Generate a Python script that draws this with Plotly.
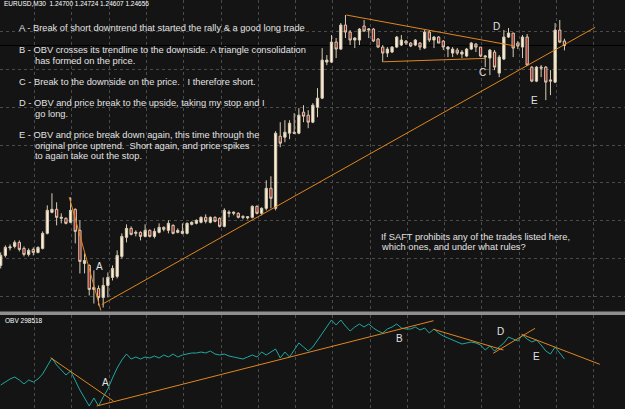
import plotly.graph_objects as go

W, H = 625, 409

# ---------------- data (EURUSD, M30) ----------------
bar = list(range(122))

open_ = [1.2246,1.2256,1.22635,1.2265,1.2269,1.2263,1.2257,1.2262,1.2259,1.2263,
         1.2278,1.2299,1.2302,1.2293,1.2293,1.2289,1.2302,1.2281,1.2248,1.2246,
         1.2222,1.2223,1.2214,1.2226,1.2234,1.2235,1.2255,1.2274,1.2283,1.2278,
         1.2279,1.2275,1.2281,1.2275,1.2279,1.2284,1.2281,1.2286,1.2279,1.2278,
         1.2278,1.2287,1.2288,1.2289,1.2294,1.2289,1.2294,1.2293,1.2285,1.2298,
         1.2298,1.2298,1.2295,1.22935,1.2294,1.2305,1.2298,1.2303,1.2323,1.2303,
         1.2375,1.2374,1.2378,1.2379,1.2378,1.2399,1.2396,1.2389,1.2404,1.2413,
         1.2449,1.2449,1.2469,1.2462,1.2486,1.2479,1.2471,1.2471,1.2485,1.2481,
         1.2482,1.2472,1.2464,1.2458,1.2459,1.2464,1.2466,1.2470,1.2468,1.2466,
         1.2468,1.2463,1.2479,1.2471,1.2474,1.2470,1.2462,1.2458,1.2461,1.2457,
         1.2455,1.2462,1.2467,1.2464,1.2454,1.2453,1.2459,1.2438,1.2452,1.2474,
         1.2478,1.2468,1.2464,1.2474,1.2444,1.2430,1.2444,1.2444,1.2430,1.2429,
         1.2481,1.24700]

high = [1.2259,1.2266,1.2267,1.2271,1.2271,1.2265,1.2263,1.2264,1.2265,1.2280,
        1.2306,1.2318,1.2309,1.2298,1.2294,1.2314,1.2303,1.2291,1.2258,1.2247,
        1.2241,1.2226,1.2234,1.2239,1.2246,1.2261,1.2278,1.2287,1.2285,1.2281,
        1.2280,1.2287,1.2282,1.2283,1.2288,1.2285,1.2291,1.2287,1.2283,1.2288,
        1.2289,1.2290,1.2292,1.2295,1.2297,1.2295,1.2295,1.2294,1.2303,1.2301,
        1.2300,1.2299,1.2296,1.2295,1.2306,1.2306,1.2304,1.2331,1.2335,1.2380,
        1.2389,1.2391,1.2391,1.2398,1.2403,1.2406,1.2401,1.2408,1.2423,1.2463,
        1.2456,1.2476,1.2473,1.2488,1.2496,1.2481,1.2474,1.2483,1.2491,1.2483,
        1.2483,1.2473,1.2466,1.2464,1.2465,1.2475,1.2476,1.2471,1.2469,1.2472,
        1.2469,1.2481,1.2481,1.2475,1.2475,1.2471,1.2465,1.2464,1.2463,1.2461,
        1.2463,1.2469,1.2468,1.2464,1.2456,1.2462,1.2461,1.2456,1.2481,1.2483,
        1.2478,1.2470,1.2476,1.2477,1.2445,1.2445,1.2446,1.2445,1.2441,1.2488,
        1.2491,1.24724]

low = [1.2243,1.2254,1.2261,1.2263,1.2260,1.2255,1.2255,1.2256,1.2258,1.2262,
       1.2277,1.2298,1.2286,1.2288,1.2287,1.2288,1.2268,1.2238,1.2238,1.2216,
       1.2208,1.2206,1.2204,1.2214,1.2231,1.2233,1.2253,1.2269,1.2276,1.2275,
       1.2271,1.2274,1.2274,1.2273,1.2278,1.2280,1.2278,1.2277,1.2278,1.2277,
       1.2277,1.2286,1.2287,1.2288,1.2288,1.2288,1.2289,1.2284,1.2284,1.2294,
       1.2296,1.2293,1.2292,1.2292,1.2293,1.2297,1.2296,1.2301,1.2303,1.2301,
       1.2364,1.2369,1.2372,1.2377,1.2377,1.2389,1.2383,1.2388,1.2394,1.2412,
       1.2446,1.2448,1.2453,1.2461,1.2473,1.2466,1.2463,1.2466,1.2479,1.2473,
       1.2469,1.2463,1.2449,1.2454,1.2458,1.2463,1.2465,1.2466,1.2464,1.2465,
       1.2461,1.2462,1.2469,1.2463,1.2468,1.2461,1.2454,1.2454,1.2456,1.2453,
       1.2454,1.2461,1.2459,1.2454,1.2444,1.2436,1.2441,1.2434,1.2451,1.2473,
       1.2454,1.2462,1.2453,1.2445,1.2429,1.2429,1.2434,1.2411,1.2416,1.2428,
       1.2468,1.24607]

close = [1.2256,1.2264,1.22645,1.2269,1.2262,1.2257,1.2261,1.2259,1.2264,1.2278,
         1.2301,1.2302,1.2294,1.2294,1.2288,1.2301,1.2280,1.2250,1.2251,1.2222,
         1.2224,1.2214,1.2226,1.2234,1.2243,1.2256,1.2275,1.2283,1.2277,1.2279,
         1.2275,1.2281,1.2275,1.2280,1.2284,1.2282,1.2288,1.2278,1.2281,1.2280,
         1.2288,1.2289,1.2291,1.2294,1.2290,1.2294,1.2290,1.2285,1.2301,1.2299,
         1.2299,1.2294,1.2294,1.22945,1.2305,1.2298,1.2303,1.2323,1.2313,1.2378,
         1.2368,1.2379,1.2388,1.2378,1.2396,1.2395,1.2389,1.2406,1.2413,1.2451,
         1.2451,1.2469,1.2462,1.2486,1.2479,1.2471,1.2473,1.2482,1.2480,1.2482,
         1.2470,1.2464,1.2458,1.2462,1.2464,1.2474,1.2471,1.2468,1.2465,1.2471,
         1.2464,1.2479,1.2471,1.2474,1.2468,1.2464,1.2464,1.2462,1.2458,1.2459,
         1.2462,1.2468,1.2464,1.2455,1.2455,1.2461,1.2444,1.2454,1.2474,1.2478,
         1.2463,1.2465,1.2474,1.2446,1.2430,1.2444,1.2443,1.2429,1.2431,1.2481,
         1.2469,1.24656]

obv = [285500,287000,288500,289500,288000,286000,288000,287000,288500,291000,
       295000,299000,295500,293000,290500,292500,287500,283000,279000,275000,
       279000,275000,279500,283500,289000,294000,298000,301000,298500,299500,
       298500,299500,299000,300000,299000,300500,299500,301000,299500,300500,
       301000,301500,301500,302000,301500,302500,301000,300500,301000,300000,
       299500,299000,298500,299500,300500,299500,302000,300500,302000,303500,
       299000,302000,299500,303000,306500,304500,302500,304500,308000,311500,
       314500,318000,315500,318000,315000,312500,314500,316000,314500,316000,
       314000,312500,311500,313500,314500,316000,314000,313500,313500,314500,
       313000,314000,311500,313500,311500,310000,309000,308000,307000,306000,
       306500,307000,306500,305500,303000,305000,302500,304500,306500,309500,
       308500,307500,310500,308500,307000,308000,305500,302500,301000,304500,
       301500,298518]

last_bid = 1.24656

# hand-drawn trendlines on price (bar index, price)
downA_x = [14.7, 21.5];   downA_y = [1.23143, 1.2201]
upTrend_x = [21.7, 127.6]; upTrend_y = [1.2207, 1.24837]
triTop_x = [74.2, 110.4];  triTop_y = [1.2496, 1.2465]
triBot_x = [82.1, 104.0];  triBot_y = [1.24493, 1.24527]

# hand-drawn trendlines on OBV (bar index, OBV)
obvA_x = [10.7, 24.2];   obvA_y = [299150, 277500]
obvB_x = [20.6, 92.9];   obvB_y = [275000, 317650]
obvC_x = [92.9, 107.9];  obvC_y = [313350, 303000]
obvD_x = [105.7, 114.7]; obvD_y = [301350, 313850]
obvE_x = [111.8, 128.6]; obvE_y = [310850, 295850]

header = "EURUSD,M30\u00a0\u00a01.24700 1.24724 1.24607 1.24656"
obv_label = "OBV 298518"
notes = [
    ("A - Break of short downtrend that started the rally & a good long trade", 17.3, 28.3),
    ("B - OBV crosses its trendline to the downside. A triangle consolidation", 17.3, 50.0),
    ("has formed on the price.", 32.7, 60.7),
    ("C - Break to the downside on the price.\u00a0\u00a0\u00a0I therefore short.", 17.3, 81.7),
    ("D - OBV and price break to the upside, taking my stop and I", 17.3, 102.7),
    ("go long.", 32.7, 113.7),
    ("E - OBV and price break down again, this time through the", 17.3, 135.0),
    ("original price uptrend.\u00a0\u00a0Short again, and price spikes", 32.7, 145.7),
    ("to again take out the stop.", 32.7, 156.0),
    ("If SAFT prohibits any of the trades listed here,", 378.7, 236.7),
    ("which ones, and under what rules?", 378.7, 246.7),
]
letters = [("A", 99.3, 266.7), ("C", 482.0, 72.0), ("D", 496.7, 26.7), ("E", 534.3, 100.7),
           ("A", 105.0, 382.7), ("B", 399.3, 338.3), ("D", 500.0, 331.7), ("E", 536.7, 356.0)]

# ---------------- style ----------------
BG = "#141414"
GRID = "#4a4a4a"
ORANGE = "#E0861F"
TEAL = "#20A8A0"
TXT = "#e2e2e2"
FONT = "Liberation Sans, Arial, sans-serif"

def px(x):
    return x / W

def py(y):
    return 1 - y / H

fig = go.Figure()

fig.add_trace(go.Candlestick(
    x=bar, open=open_, high=high, low=low, close=close,
    increasing=dict(line=dict(color="#d8ccb4", width=1), fillcolor="#fdf0d6"),
    decreasing=dict(line=dict(color="#d8ccb4", width=1), fillcolor="#9a1c1c"),
    whiskerwidth=0, xaxis="x", yaxis="y", hoverinfo="skip"))

for lx, ly in [(downA_x, downA_y), (upTrend_x, upTrend_y), (triTop_x, triTop_y), (triBot_x, triBot_y)]:
    fig.add_trace(go.Scatter(x=lx, y=ly, mode="lines", line=dict(color=ORANGE, width=1),
                             xaxis="x", yaxis="y", hoverinfo="skip"))

fig.add_trace(go.Scatter(x=bar, y=obv, mode="lines", line=dict(color=TEAL, width=1),
                         xaxis="x2", yaxis="y2", hoverinfo="skip"))
for lx, ly in [(obvA_x, obvA_y), (obvB_x, obvB_y), (obvC_x, obvC_y), (obvD_x, obvD_y), (obvE_x, obvE_y)]:
    fig.add_trace(go.Scatter(x=lx, y=ly, mode="lines", line=dict(color=ORANGE, width=1),
                             xaxis="x2", yaxis="y2", hoverinfo="skip"))

main_bottom = 1 - 311.5 / H
obv_top = 1 - 315 / H

xcommon = dict(range=[-0.15, 134.0], showticklabels=False, ticks="", zeroline=False,
               showline=False, showgrid=True, gridcolor=GRID, griddash="dot", gridwidth=1,
               tick0=7.3, dtick=8)

fig.update_layout(
    width=W, height=H, margin=dict(l=0, r=0, t=0, b=0),
    paper_bgcolor=BG, plot_bgcolor=BG, showlegend=False, hovermode=False,
    xaxis=dict(**xcommon, anchor="y", domain=[0, 1], rangeslider=dict(visible=False)),
    xaxis2=dict(**xcommon, anchor="y2", domain=[0, 1], matches="x"),
    yaxis=dict(domain=[main_bottom, 1], range=[1.2200, 1.2511], showticklabels=False, ticks="",
               zeroline=False, showgrid=True, gridcolor=GRID, griddash="dot", gridwidth=1,
               tick0=1.2404, dtick=0.00378),
    yaxis2=dict(domain=[0, obv_top], range=[273500, 320500], showticklabels=False, ticks="",
                zeroline=False, showgrid=False),
)

# bid line
fig.add_shape(type="line", xref="paper", yref="y", x0=0, x1=1, y0=last_bid, y1=last_bid,
              line=dict(color="#000000", width=1), layer="below")
# pane separator
fig.add_shape(type="rect", xref="paper", yref="paper", x0=0, x1=1,
              y0=obv_top, y1=main_bottom, fillcolor="#8f8f8f", line=dict(width=0))

ann = []
ann.append(dict(text=header, x=px(1.5), y=py(3.5), xref="paper", yref="paper",
                xanchor="left", yanchor="middle", showarrow=False,
                font=dict(family=FONT, size=6.5, color="#ffffff")))
ann.append(dict(text=obv_label, x=px(2.5), y=py(320), xref="paper", yref="paper",
                xanchor="left", yanchor="middle", showarrow=False,
                font=dict(family=FONT, size=6.5, color="#ffffff")))
for t, x, y in notes:
    ann.append(dict(text=t, x=px(x), y=py(y), xref="paper", yref="paper",
                    xanchor="left", yanchor="middle", showarrow=False,
                    font=dict(family=FONT, size=9.3, color=TXT)))
for t, x, y in letters:
    ann.append(dict(text=t, x=px(x), y=py(y), xref="paper", yref="paper",
                    xanchor="center", yanchor="middle", showarrow=False,
                    font=dict(family=FONT, size=10, color=TXT)))
fig.update_layout(annotations=ann)

fig.write_html("out.html", config={"displayModeBar": False})
